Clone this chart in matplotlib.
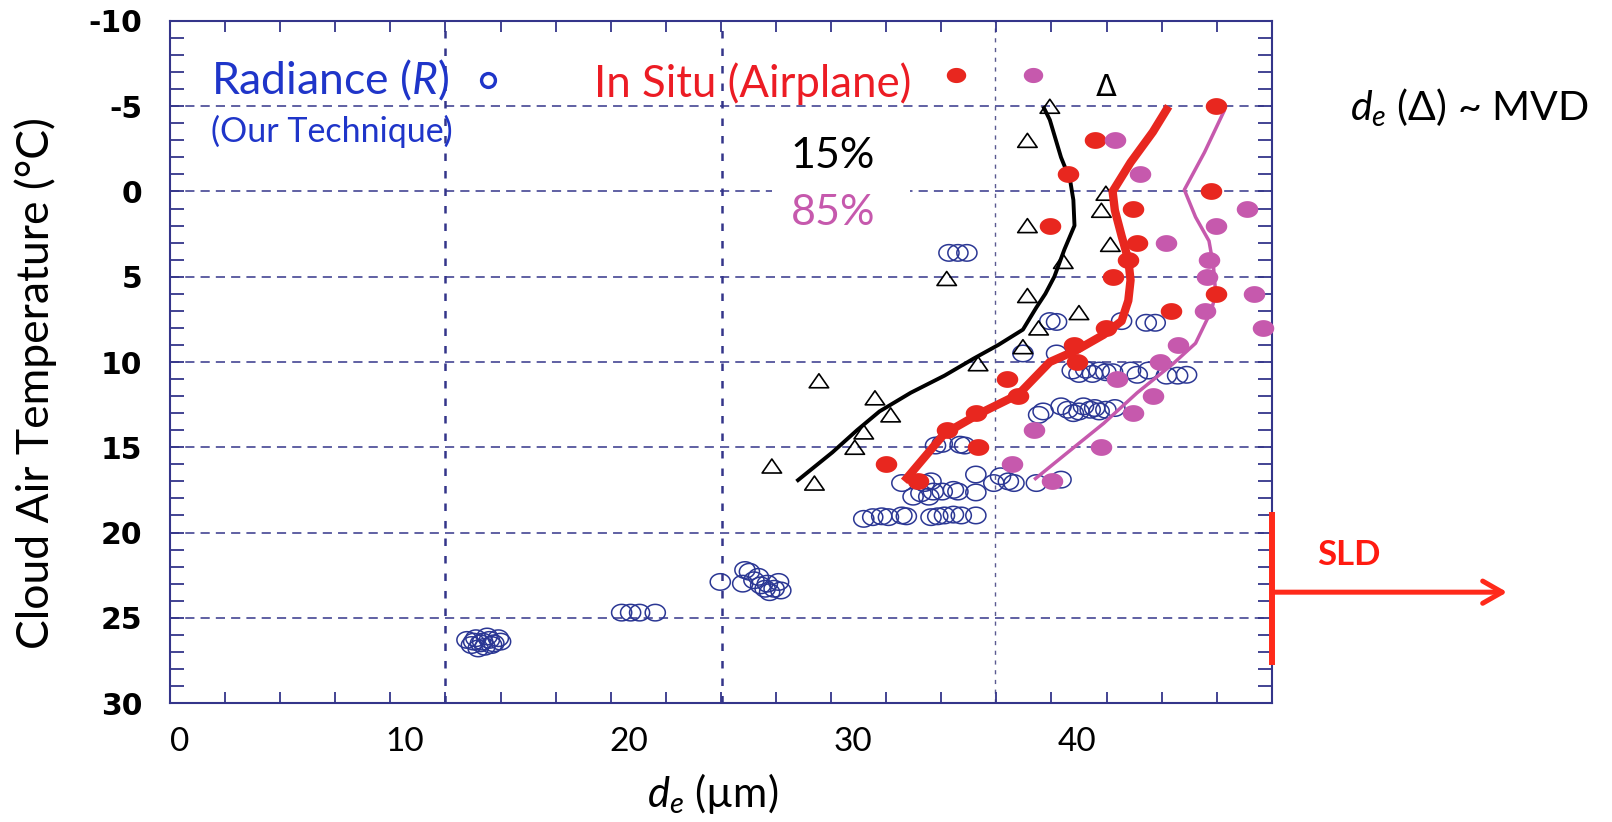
import numpy as np
import matplotlib
matplotlib.use('Agg')
import matplotlib.pyplot as plt
from matplotlib.path import Path
from matplotlib.ticker import FixedLocator, FixedFormatter
from matplotlib.patches import Rectangle, FancyArrowPatch, ArrowStyle
from matplotlib.lines import Line2D

plt.rcParams['font.family'] = ['Lato', 'DejaVu Sans']
plt.rcParams['mathtext.fontset'] = 'custom'
plt.rcParams['mathtext.rm'] = 'Lato'
plt.rcParams['mathtext.it'] = 'Lato:italic'
plt.rcParams['mathtext.bf'] = 'Lato:bold'

# ---------------- data ----------------
x_tick_values = [0, 10, 20, 30, 40]
x_tick_labels = ['0', '10', '20', '30', '40']
y_tick_values = [-10, -5, 0, 5, 10, 15, 20, 25, 30]
y_tick_labels = ['-10', '-5', '0', '5', '10', '15', '20', '25', '30']
grid_x = [11.82, 24.17, 36.35]
grid_y = [-5, 0, 5, 10, 15, 20, 25]

# Radiance retrievals (open blue circles)
radiance_x = [12.8, 13.0, 13.2, 13.4, 13.6, 13.8, 14.0, 14.2, 13.3, 13.7, 13.1, 13.9, 14.3, 13.5,
              19.7, 20.1, 20.5, 21.2,
              24.1, 25.2, 25.1, 25.6, 25.9, 26.1, 26.2, 26.5, 26.7, 26.8, 25.8, 25.4, 26.3,
              34.3, 34.7, 35.1,
              38.8, 39.1, 42.0, 43.1, 43.5,
              37.6, 39.1,
              39.8, 40.1, 40.4, 40.7, 41.0, 41.3, 41.6, 42.4, 42.7, 43.2, 44.0, 44.5, 44.9,
              38.3, 38.5, 39.3, 39.6, 39.85, 40.1, 40.3, 40.6, 40.8, 41.0, 41.3, 41.7,
              33.7, 34.0, 34.8, 35.0,
              32.2, 33.2, 33.5, 35.5, 36.3, 36.6, 36.95, 37.2, 38.2, 39.3,
              32.7, 33.05, 33.4, 33.6, 34.0, 34.5, 34.7, 35.5,
              30.5, 30.9, 31.3, 31.6, 32.2, 32.4, 33.5, 33.8, 34.1, 34.5, 34.85, 35.5]
radiance_y = [26.3, 26.6, 26.2, 26.5, 26.7, 26.3, 26.5, 26.2, 26.8, 26.1, 26.4, 26.6, 26.4, 26.4,
              24.7, 24.7, 24.7, 24.7,
              22.9, 22.2, 23.0, 22.8, 23.1, 23.3, 23.0, 23.3, 22.9, 23.4, 22.6, 22.3, 23.5,
              3.6, 3.6, 3.6,
              7.6, 7.65, 7.6, 7.7, 7.7,
              9.5, 9.5,
              10.5, 10.7, 10.45, 10.7, 10.5, 10.6, 10.6, 10.5, 10.75, 10.5, 10.8, 10.8, 10.75,
              13.1, 12.9, 12.6, 12.8, 13.0, 12.9, 12.6, 12.8, 12.7, 12.9, 12.8, 12.7,
              14.9, 14.8, 14.85, 14.9,
              17.1, 17.1, 17.0, 16.6, 17.1, 16.7, 17.0, 17.1, 17.1, 16.9,
              17.9, 17.7, 17.9, 17.6, 17.6, 17.5, 17.6, 17.65,
              19.2, 19.1, 19.05, 19.1, 19.0, 19.05, 19.1, 19.05, 19.0, 18.95, 19.0, 19.0]

# MVD (open triangles)
mvd_x = [38.8, 37.8, 41.3, 41.1, 37.8, 41.5, 39.4, 34.2, 37.8, 40.1, 38.3, 37.6, 35.6,
         28.5, 31.0, 31.7, 30.5, 30.1, 26.4, 28.3]
mvd_y = [-5.0, -3.0, 0.1, 1.1, 2.0, 3.1, 4.1, 5.1, 6.1, 7.1, 8.0, 9.1, 10.1,
         11.1, 12.1, 13.1, 14.1, 15.0, 16.1, 17.1]

# In situ (red dots)
insitu_red_x = [46.2, 40.8, 39.6, 46.0, 42.5, 38.8, 42.7, 42.3, 41.6, 46.2, 44.2, 41.3,
                39.9, 40.0, 36.9, 37.4, 35.5, 34.2, 35.6, 31.5, 32.9]
insitu_red_y = [-5.0, -3.0, -1.0, 0.0, 1.0, 2.0, 3.0, 4.0, 5.0, 6.0, 7.0, 8.0,
                9.0, 10.0, 11.0, 12.0, 13.0, 14.0, 15.0, 16.0, 17.0]

# In situ (magenta dots)
insitu_mag_x = [41.7, 42.8, 47.6, 46.2, 44.0, 45.9, 45.8, 47.9, 45.7, 48.3, 44.5, 43.7,
                41.8, 43.4, 42.5, 38.1, 41.1, 37.1, 38.9]
insitu_mag_y = [-3.0, -1.0, 1.0, 2.0, 3.0, 4.0, 5.0, 6.0, 7.0, 8.0, 9.0, 10.0,
                11.0, 12.0, 13.0, 14.0, 15.0, 16.0, 17.0]

# profile lines
line_black_x = [38.5, 38.8, 39.3, 39.7, 39.85, 39.9, 39.45, 39.0, 38.6, 38.2, 37.6, 36.5,
                35.4, 34.1, 32.6, 31.2, 30.2, 29.1, 27.5]
line_black_y = [-5.0, -4.2, -2.0, -0.7, 0.5, 2.0, 3.4, 5.0, 6.0, 6.8, 8.1, 9.0,
                9.8, 10.8, 11.8, 12.9, 14.0, 15.3, 17.0]
line_red_x = [44.1, 43.4, 42.4, 41.6, 41.7, 42.0, 42.3, 42.4, 42.3, 42.0, 41.2, 40.0,
              38.8, 37.4, 35.7, 34.1, 32.3]
line_red_y = [-5.0, -3.5, -1.7, 0.0, 1.1, 2.6, 4.0, 5.2, 6.4, 7.6, 8.4, 9.3,
              10.0, 11.9, 13.0, 14.2, 17.0]
line_mag_x = [46.6, 45.7, 44.8, 45.3, 45.9, 46.1, 46.2, 46.0, 45.3, 44.3, 42.7, 41.2, 39.6, 38.1]
line_mag_y = [-4.8, -2.3, -0.1, 1.5, 2.9, 4.4, 6.0, 7.0, 8.9, 10.1, 11.8, 13.6, 15.3, 16.9]

sld_y_range = [18.8, 27.8]
sld_arrow_y = 23.5
sld_arrow_end_x = 59.2

# ---------------- style ----------------
NAVY = '#34358a'
CIRC = '#2b3794'
BLUE_TXT = '#1f35c9'
RED = '#e8271f'
RED_TXT = '#ec1c24'
MAG = '#c659ad'

W, H = 1612, 822
def fx(px):
    return px / W
def fy(py):
    return 1 - py / H

t = np.linspace(0, 2 * np.pi, 60)
ellipse = Path(np.column_stack([np.cos(t), 0.82 * np.sin(t)]), closed=True)
ellipse_dot = Path(np.column_stack([np.cos(t), 0.78 * np.sin(t)]), closed=True)
tri = Path([(0, 0.72), (-1, -0.72), (1, -0.72), (0, 0.72)], closed=True)

fig = plt.figure(figsize=(W / 100, H / 100), dpi=100)
ax = fig.add_axes([fx(170), fy(703), (1272 - 170) / W, (703 - 21) / H])
ax.set_xlim(-0.446, 48.71)
ax.set_ylim(30, -10)

for s in ax.spines.values():
    s.set_color(NAVY)
    s.set_linewidth(1.5)

ax.xaxis.set_major_locator(FixedLocator(x_tick_values))
ax.xaxis.set_major_formatter(FixedFormatter(x_tick_labels))
ax.xaxis.set_minor_locator(FixedLocator([-0.446 + 2.4575 * k for k in range(1, 20)]))
ax.tick_params(axis='x', which='major', length=0, pad=17, labelsize=24, labelcolor='black')
ax.tick_params(axis='x', which='minor', direction='in', length=8, width=1.3,
               color=NAVY, top=True, bottom=True)

ax.yaxis.set_major_locator(FixedLocator(y_tick_values))
ax.yaxis.set_major_formatter(FixedFormatter(y_tick_labels))
ax.yaxis.set_minor_locator(FixedLocator(list(range(-9, 30))))
ax.tick_params(axis='y', which='both', direction='in', length=10, width=1.3,
               color=NAVY, left=True, right=True, pad=20)
for lab in ax.get_yticklabels():
    lab.set_fontfamily('DejaVu Sans')
    lab.set_fontweight('heavy')
    lab.set_fontsize(21.5)

for gy in grid_y:
    ax.axhline(gy, color=NAVY, lw=1.1, ls=(0, (6, 4)), zorder=1)
for i, gx in enumerate(grid_x):
    ax.axvline(gx, color=NAVY if i < 2 else '#5a5a90', lw=1.8 if i < 2 else 1.0,
               ls=(0, (3, 4)), zorder=1)

# white patch behind 15% / 85%
fig.add_artist(Rectangle((fx(772), fy(240)), (910 - 772) / W, (240 - 128) / H,
                         transform=fig.transFigure, facecolor='white', edgecolor='none', zorder=1))

ax.scatter(radiance_x, radiance_y, marker=ellipse, s=14.5 ** 2, facecolors='none',
           edgecolors=CIRC, linewidths=1.1, zorder=3)
ax.scatter(mvd_x, mvd_y, marker=tri, s=14 ** 2, facecolors='none',
           edgecolors='black', linewidths=1.2, zorder=3)
ax.plot(line_black_x, line_black_y, color='black', lw=2.8, zorder=4, solid_capstyle='butt')
ax.plot(line_red_x, line_red_y, color=RED, lw=6, zorder=4, solid_capstyle='butt')
ax.plot(line_mag_x, line_mag_y, color=MAG, lw=2.5, zorder=4, solid_capstyle='butt')
ax.scatter(insitu_red_x, insitu_red_y, marker=ellipse_dot, s=15.5 ** 2, color=RED,
           linewidths=0, zorder=5, clip_on=False)
ax.scatter(insitu_mag_x, insitu_mag_y, marker=ellipse_dot, s=15.5 ** 2, color=MAG,
           linewidths=0, zorder=5, clip_on=False)

# ---------------- annotations ----------------
fig.text(fx(211), fy(80), r'Radiance ($\mathit{R}$)', color=BLUE_TXT, fontsize=32,
         ha='left', va='center')
fig.text(fx(211), fy(131), '(Our Technique)', color=BLUE_TXT, fontsize=24.5,
         ha='left', va='center')
fig.add_artist(Line2D([fx(488)], [fy(80)], marker='o', markersize=10, markerfacecolor='none',
                      markeredgecolor=BLUE_TXT, markeredgewidth=2.4, transform=fig.transFigure))
fig.text(fx(594), fy(84), 'In Situ (Airplane)', color=RED_TXT, fontsize=31.5,
         ha='left', va='center')
fig.add_artist(Line2D([fx(956)], [fy(75)], marker=ellipse_dot, markersize=14, color=RED,
                      markeredgewidth=0, transform=fig.transFigure))
fig.add_artist(Line2D([fx(1033)], [fy(75)], marker=ellipse_dot, markersize=14, color=MAG,
                      markeredgewidth=0, transform=fig.transFigure))
fig.text(fx(1106), fy(88), 'Δ', color='black', fontsize=22, ha='center', va='center',
         family=['DejaVu Sans'])
fig.text(fx(833), fy(156), '15%', color='black', fontsize=31, ha='center', va='center', zorder=3)
fig.text(fx(833), fy(213), '85%', color=MAG, fontsize=31, ha='center', va='center', zorder=3)
fig.text(fx(1350), fy(108), r'$d_e$ (Δ) ~ MVD', color='black', fontsize=29.5,
         ha='left', va='center')

fig.text(fx(36), fy(383), 'Cloud Air Temperature (°C)', rotation=90, fontsize=32,
         ha='center', va='center')
fig.text(fx(713), fy(793), r'$d_e$ (µm)', fontsize=30, ha='center', va='center')

# SLD marker
ax.plot([ax.get_xlim()[1]] * 2, sld_y_range, color='#ff2a1a', lw=4.3, clip_on=False,
        zorder=6, solid_capstyle='butt')
ax.add_artist(FancyArrowPatch((ax.get_xlim()[1], sld_arrow_y), (sld_arrow_end_x, sld_arrow_y),
                              arrowstyle=ArrowStyle('->', head_length=14, head_width=8),
                              mutation_scale=1, color='#ff2a1a', lw=3.6, clip_on=False,
                              zorder=6, shrinkA=0, shrinkB=0))
fig.text(fx(1349), fy(555), 'SLD', color='#ff1a10', fontsize=25, fontweight='bold',
         ha='center', va='center')

fig.savefig('out.png', dpi=100)
